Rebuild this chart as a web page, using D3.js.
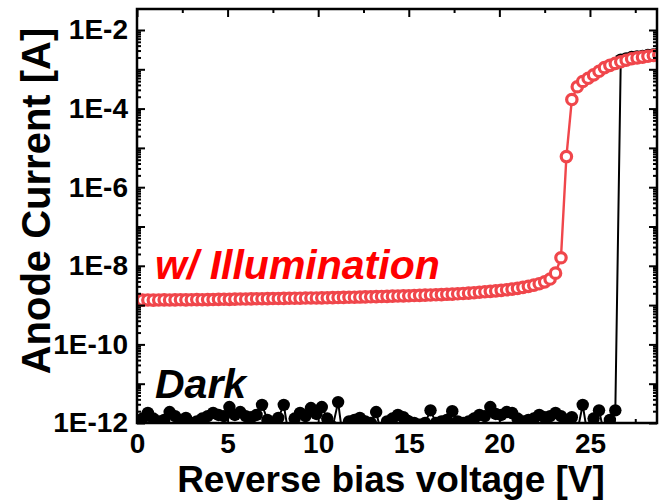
<!DOCTYPE html>
<html lang="en">
<head>
<meta charset="UTF-8">
<title>Anode current vs reverse bias</title>
<style>
  body { margin: 0; background: #fff; }
  svg { display: block; }
  .tick text { font-family: "Liberation Sans", Arial, sans-serif; font-weight: bold; fill: #000; }
</style>
</head>
<body>
<div id="chart"></div>
<script src="https://d3js.org/d3.v7.min.js"></script>
<script>
// sweep voltages (V)
const biasV = [0,0.3,0.6,0.9,1.2,1.5,1.8,2.1,2.4,2.7,3,3.3,3.6,3.9,4.2,4.5,4.8,5.1,5.4,5.7,
  6,6.3,6.6,6.9,7.2,7.5,7.8,8.1,8.4,8.7,9,9.3,9.6,9.9,10.2,10.5,10.8,11.1,11.4,11.7,
  12,12.3,12.6,12.9,13.2,13.5,13.8,14.1,14.4,14.7,15,15.3,15.6,15.9,16.2,16.5,16.8,17.1,17.4,17.7,
  18,18.3,18.6,18.9,19.2,19.5,19.8,20.1,20.4,20.7,21,21.3,21.6,21.9,22.2,22.5,22.8,23.1,23.4,23.7,
  24,24.3,24.6,24.9,25.2,25.5,25.8,26.1,26.4,26.7,27,27.3,27.6,27.9,28.2,28.5,28.8];

// anode current under illumination (A)
const illumI = [
  1.33e-9,1.34e-9,1.35e-9,1.34e-9,1.35e-9,1.36e-9,1.35e-9,1.36e-9,1.37e-9,1.36e-9,
  1.37e-9,1.38e-9,1.37e-9,1.38e-9,1.39e-9,1.4e-9,1.41e-9,1.4e-9,1.42e-9,1.43e-9,
  1.43e-9,1.44e-9,1.45e-9,1.45e-9,1.46e-9,1.47e-9,1.47e-9,1.48e-9,1.49e-9,1.5e-9,
  1.5e-9,1.51e-9,1.52e-9,1.52e-9,1.53e-9,1.54e-9,1.55e-9,1.56e-9,1.57e-9,1.58e-9,
  1.59e-9,1.6e-9,1.62e-9,1.63e-9,1.64e-9,1.66e-9,1.67e-9,1.69e-9,1.7e-9,1.72e-9,
  1.73e-9,1.75e-9,1.77e-9,1.79e-9,1.81e-9,1.83e-9,1.85e-9,1.88e-9,1.9e-9,1.94e-9,
  1.98e-9,2.02e-9,2.07e-9,2.12e-9,2.18e-9,2.24e-9,2.3e-9,2.37e-9,2.45e-9,2.55e-9,
  2.67e-9,2.82e-9,3.0e-9,3.22e-9,3.5e-9,3.9e-9,4.6e-9,6.5e-9,1.6e-8,6e-6,
  1.7e-4,3.6e-4,4.9e-4,5.9e-4,7.2e-4,8.9e-4,1.1e-3,1.26e-3,1.41e-3,1.55e-3,
  1.7e-3,1.86e-3,1.95e-3,2.04e-3,2.14e-3,2.24e-3,2.34e-3];

// dark current (A)
const darkI = [
  1.1e-12,1.3e-12,1.8e-12,1.3e-12,1.1e-12,1.2e-12,1.9e-12,1.5e-12,1.1e-12,1.35e-12,
  1.0e-12,1.1e-12,1.3e-12,1.5e-12,1.8e-12,1.6e-12,1.5e-12,2.55e-12,1.6e-12,1.9e-12,
  1.5e-12,1.4e-12,1.6e-12,2.9e-12,1.2e-12,1.0e-12,1.35e-12,2.9e-12,4e-13,1.3e-12,
  1.8e-12,1.5e-12,2.4e-12,1.7e-12,2.55e-12,1.3e-12,8e-13,3.4e-12,3e-13,1.1e-12,
  1.2e-12,1.35e-12,1.1e-12,1.0e-12,1.9e-12,5e-13,1.1e-12,1.3e-12,1.6e-12,1.4e-12,
  1.1e-12,1.0e-12,9e-13,1.0e-12,2.1e-12,1.0e-12,1.1e-12,1.2e-12,2.0e-12,1.1e-12,
  1.0e-12,1.1e-12,1.3e-12,1.6e-12,1.5e-12,2.55e-12,1.7e-12,1.6e-12,1.9e-12,1.8e-12,
  1.3e-12,1.1e-12,1.2e-12,1.3e-12,1.6e-12,1.4e-12,1.5e-12,1.8e-12,1.5e-12,1.2e-12,
  1.4e-12,6e-13,2.9e-12,4e-13,1.3e-12,2.1e-12,5e-13,1.2e-12,2.1e-12,1.75e-3,
  1.9e-3,2.05e-3,2.12e-3,2.2e-3,2.3e-3,2.4e-3,2.5e-3];

const xMajor = [0, 5, 10, 15, 20, 25];
const xMinor = [2.5, 7.5, 12.5, 17.5, 22.5, 27.5];
const yDecades = [1e-12,1e-11,1e-10,1e-9,1e-8,1e-7,1e-6,1e-5,1e-4,1e-3,1e-2];
const yLabelled = [1e-12,1e-10,1e-8,1e-6,1e-4,1e-2];

const width = 665, height = 500;
const pLeft = 137, pRight = 657, pTop = 9, pBottom = 423;
const font = '"Liberation Sans", Arial, sans-serif';
const redCol = '#f0464b';

const svg = d3.select('#chart').append('svg')
    .attr('width', width)
    .attr('height', height);

const x = d3.scaleLinear().domain([0, 28.7]).range([pLeft, pRight]);
const y = d3.scaleLog().domain([1e-12, Math.pow(10, -1.466)]).range([pBottom, pTop]);

// minor ticks for log axis: 2..9 in every decade
const yMinor = [];
yDecades.slice(0, -1).forEach(d => {
  for (let m = 2; m <= 9; m++) yMinor.push(d * m);
});
const yMinorVis = yMinor.filter(v => v < y.domain()[1]);

svg.append('clipPath').attr('id', 'plot-clip')
  .append('rect')
    .attr('x', pLeft).attr('y', pTop)
    .attr('width', pRight - pLeft).attr('height', pBottom - pTop);

const plot = svg.append('g').attr('clip-path', 'url(#plot-clip)');

const darkData = biasV.map((v, i) => ({v, i: darkI[i]}));
const illumData = biasV.map((v, i) => ({v, i: illumI[i]}));

const line = d3.line().x(d => x(d.v)).y(d => y(d.i));

// dark curve
plot.append('path')
    .datum(darkData)
    .attr('d', line)
    .attr('fill', 'none')
    .attr('stroke', '#000')
    .attr('stroke-width', 2);

plot.selectAll('.dark-pt')
    .data(darkData)
    .enter().append('circle')
    .attr('class', 'dark-pt')
    .attr('cx', d => x(d.v))
    .attr('cy', d => y(d.i))
    .attr('r', 6.2)
    .attr('fill', '#000');

// illuminated curve
plot.append('path')
    .datum(illumData)
    .attr('d', line)
    .attr('fill', 'none')
    .attr('stroke', redCol)
    .attr('stroke-width', 2.4);

plot.selectAll('.ill-pt')
    .data(illumData)
    .enter().append('circle')
    .attr('class', 'ill-pt')
    .attr('cx', d => x(d.v))
    .attr('cy', d => y(d.i))
    .attr('r', 5.2)
    .attr('fill', '#fff')
    .attr('stroke', redCol)
    .attr('stroke-width', 3.2);

// axes (ticks pointing inward)
function styleAxis(g) {
  g.select('.domain').remove();
  g.selectAll('.tick line').attr('stroke', '#000').attr('stroke-width', 2);
  g.selectAll('.tick text').style('font-size', '28px');
}

const yFmt = d => '1E' + Math.round(Math.log10(d));

svg.append('g').attr('transform', `translate(0,${pBottom})`)
    .call(d3.axisBottom(x).tickValues(xMajor).tickSize(-8).tickPadding(10).tickFormat(d3.format('d')))
    .call(styleAxis);
svg.append('g').attr('transform', `translate(0,${pBottom})`)
    .call(d3.axisBottom(x).tickValues(xMinor).tickSize(-4).tickFormat(''))
    .call(styleAxis);
svg.append('g').attr('transform', `translate(0,${pTop})`)
    .call(d3.axisTop(x).tickValues(xMajor).tickSize(-8).tickFormat(''))
    .call(styleAxis);
svg.append('g').attr('transform', `translate(0,${pTop})`)
    .call(d3.axisTop(x).tickValues(xMinor).tickSize(-4).tickFormat(''))
    .call(styleAxis);

svg.append('g').attr('transform', `translate(${pLeft},0)`)
    .call(d3.axisLeft(y).tickValues(yDecades).tickSize(-8).tickFormat(''))
    .call(styleAxis);
svg.append('g').attr('transform', `translate(${pLeft},0)`)
    .call(d3.axisLeft(y).tickValues(yLabelled).tickSize(0).tickPadding(9).tickFormat(yFmt))
    .call(styleAxis);
svg.append('g').attr('transform', `translate(${pLeft},0)`)
    .call(d3.axisLeft(y).tickValues(yMinorVis).tickSize(-4).tickFormat(''))
    .call(styleAxis);
svg.append('g').attr('transform', `translate(${pRight},0)`)
    .call(d3.axisRight(y).tickValues(yDecades).tickSize(-8).tickFormat(''))
    .call(styleAxis);
svg.append('g').attr('transform', `translate(${pRight},0)`)
    .call(d3.axisRight(y).tickValues(yMinorVis).tickSize(-4).tickFormat(''))
    .call(styleAxis);

// frame
svg.append('rect')
    .attr('x', pLeft).attr('y', pTop)
    .attr('width', pRight - pLeft).attr('height', pBottom - pTop)
    .attr('fill', 'none')
    .attr('stroke', '#000')
    .attr('stroke-width', 2.5);

// axis titles
svg.append('text')
    .attr('x', 391).attr('y', 492)
    .attr('text-anchor', 'middle')
    .style('font-family', font).style('font-weight', 'bold').style('font-size', '37px')
    .text('Reverse bias voltage [V]');

svg.append('text')
    .attr('transform', 'translate(50,201) rotate(-90)')
    .attr('text-anchor', 'middle')
    .style('font-family', font).style('font-weight', 'bold').style('font-size', '40px')
    .text('Anode Current [A]');

// series labels
svg.append('text')
    .attr('x', 155).attr('y', 279)
    .style('font-family', font).style('font-weight', 'bold').style('font-style', 'italic')
    .style('font-size', '41px').attr('fill', '#f00')
    .text('w/ Illumination');

svg.append('text')
    .attr('x', 155).attr('y', 398)
    .style('font-family', font).style('font-weight', 'bold').style('font-style', 'italic')
    .style('font-size', '41px').attr('fill', '#000')
    .text('Dark');
</script>
</body>
</html>
